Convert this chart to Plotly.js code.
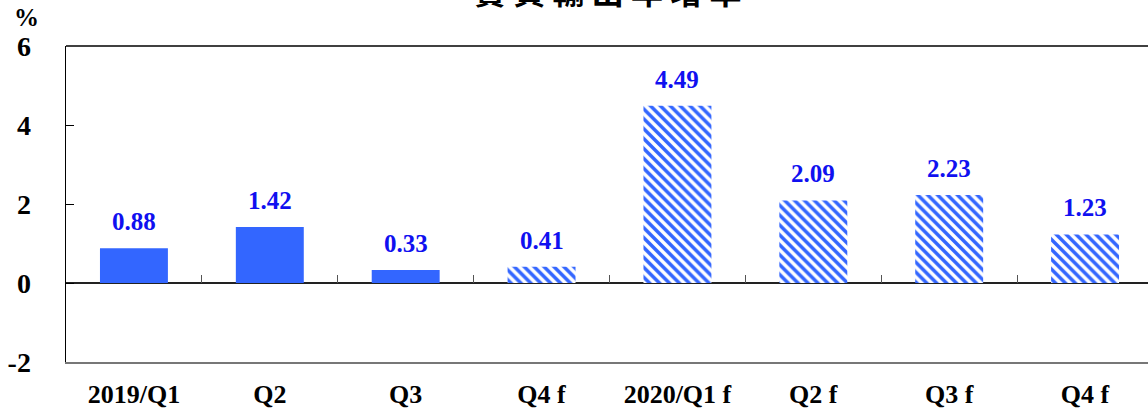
<!DOCTYPE html>
<html>
<head>
<meta charset="utf-8">
<script src="https://cdn.plot.ly/plotly-3.0.1.min.js"></script>
<style>
html,body{margin:0;padding:0;overflow:hidden;background:#fff;}
#chart{width:1153px;height:409px;}
</style>
</head>
<body>
<div id="chart"></div>
<script>
const categories = ["2019/Q1","Q2","Q3","Q4 f","2020/Q1 f","Q2 f","Q3 f","Q4 f"];
const values = [0.88, 1.42, 0.33, 0.41, 4.49, 2.09, 2.23, 1.23];
const isForecast = [false, false, false, true, true, true, true, true];
const yTicks = [-2, 0, 2, 4, 6];
const yTickLabels = ["-2", "0", "2", "4", "6"];
const titleText = "實 質 輸 出 年 增 率";
const unitText = "%";

const idx = categories.map((c, i) => i);
const blue = "#3366ff";
const labelBlue = "#1010f0";
const serif = "'Liberation Serif', 'Times New Roman', serif";

const traces = [
  {
    type: "bar",
    x: idx.filter(i => !isForecast[i]),
    y: idx.filter(i => !isForecast[i]).map(i => values[i]),
    width: 0.5,
    marker: {color: blue, line: {width: 0}},
    hoverinfo: "none"
  },
  {
    type: "bar",
    x: idx.filter(i => isForecast[i]),
    y: idx.filter(i => isForecast[i]).map(i => values[i]),
    width: 0.5,
    marker: {
      color: "white",
      line: {width: 0},
      pattern: {shape: "\\", fgcolor: blue, bgcolor: "white", size: 7, solidity: 0.5}
    },
    hoverinfo: "none"
  },
  {
    type: "scatter", x: [], y: [], xaxis: "x2", yaxis: "y", hoverinfo: "none"
  }
];

const annotations = idx.map(i => ({
  x: i, y: values[i], xref: "x", yref: "y",
  text: values[i].toFixed(2),
  showarrow: false, yanchor: "bottom", yshift: 11,
  font: {family: serif, size: 25, color: labelBlue, weight: "bold"}
}));
annotations.push({
  x: 0, y: 1, xref: "paper", yref: "paper", xanchor: "center", yanchor: "bottom",
  xshift: -40, yshift: 13, text: unitText, showarrow: false,
  font: {family: serif, size: 25, color: "black", weight: "bold"}
});
annotations.push({
  x: 0.5, y: 1, xref: "paper", yref: "paper", xanchor: "center", yanchor: "middle",
  xshift: -2, yshift: 56, text: titleText, showarrow: false,
  font: {family: "'Noto Sans CJK TC', sans-serif", size: 32, color: "black", weight: "bold"}
});

const layout = {
  width: 1153, height: 409,
  margin: {l: 66, r: 0, t: 46, b: 47},
  paper_bgcolor: "white", plot_bgcolor: "white",
  showlegend: false,
  barmode: "overlay",
  xaxis: {
    type: "linear", range: [-0.5, 7.5],
    tickvals: idx, ticktext: categories,
    ticks: "", showgrid: false, zeroline: false,
    showline: true, linecolor: "#777777", linewidth: 2, mirror: false,
    tickfont: {family: serif, size: 26, color: "black", weight: "bold"},
    ticklabelstandoff: 8,
    fixedrange: true
  },
  xaxis2: {
    type: "linear", range: [-0.5, 7.5], overlaying: "x", anchor: "free", position: 2/8,
    side: "bottom",
    tickvals: idx.slice(0, -1).map(i => i + 0.5),
    ticks: "inside", ticklen: 8, tickcolor: "#555555", tickwidth: 1,
    showticklabels: false, showgrid: false, zeroline: false, showline: false
  },
  yaxis: {
    range: [-2, 6], tickvals: yTicks, ticktext: yTickLabels,
    ticks: "inside", ticklen: 8, tickcolor: "black", tickwidth: 1,
    showgrid: false, zeroline: true, zerolinecolor: "#222222", zerolinewidth: 1.5,
    showline: true, linecolor: "black", linewidth: 1.5,
    tickfont: {family: serif, size: 28, color: "black", weight: "bold"},
    ticklabelstandoff: 28,
    fixedrange: true
  },
  shapes: [{
    type: "line", xref: "paper", yref: "paper", x0: 0, x1: 1, y0: 1, y1: 1,
    line: {color: "black", width: 1.5}
  }],
  annotations: annotations
};

Plotly.newPlot("chart", traces, layout, {staticPlot: true, displayModeBar: false});
</script>
</body>
</html>
